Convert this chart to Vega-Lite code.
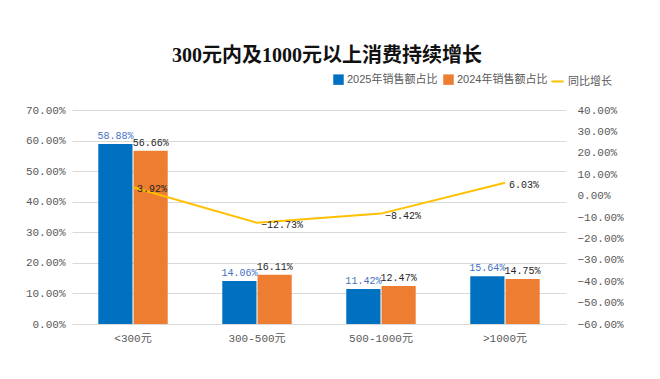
{
  "$schema": "https://vega.github.io/schema/vega-lite/v6.json",
  "width": 494,
  "height": 214,
  "autosize": {"type": "none"},
  "padding": {"left": 72, "top": 110, "right": 94, "bottom": 55},
  "background": "white",
  "title": {
    "text": "300元内及1000元以上消费持续增长",
    "font": "Liberation Serif, Noto Sans CJK SC",
    "fontSize": 20,
    "fontWeight": "bold",
    "color": "#111111",
    "anchor": "middle",
    "frame": "group",
    "dx": 8,
    "offset": 8
  },
  "config": {
    "view": {"stroke": null},
    "axis": {"labelFont": "Liberation Mono, Noto Sans CJK SC", "labelFontSize": 11, "labelColor": "#595959"},
    "legend": {"labelFont": "Liberation Sans, Noto Sans CJK SC", "labelFontSize": 11, "labelColor": "#595959"}
  },
  "datasets": {
    "bars": [
      {"cat": "<300元", "series": "2025年销售额占比", "value": 0.5888},
      {"cat": "<300元", "series": "2024年销售额占比", "value": 0.5666},
      {"cat": "300-500元", "series": "2025年销售额占比", "value": 0.1406},
      {"cat": "300-500元", "series": "2024年销售额占比", "value": 0.1611},
      {"cat": "500-1000元", "series": "2025年销售额占比", "value": 0.1142},
      {"cat": "500-1000元", "series": "2024年销售额占比", "value": 0.1247},
      {"cat": ">1000元", "series": "2025年销售额占比", "value": 0.1564},
      {"cat": ">1000元", "series": "2024年销售额占比", "value": 0.1475}
    ],
    "growth": [
      {"cat": "<300元", "growth": 0.0392},
      {"cat": "300-500元", "growth": -0.1273},
      {"cat": "500-1000元", "growth": -0.0842},
      {"cat": ">1000元", "growth": 0.0603}
    ]
  },
  "encoding": {
    "x": {
      "field": "cat",
      "type": "nominal",
      "sort": ["<300元", "300-500元", "500-1000元", ">1000元"],
      "scale": {"paddingInner": 0.44, "paddingOuter": 0.212},
      "axis": {"title": null, "labelAngle": 0, "ticks": false, "domainColor": "#D9D9D9", "labelPadding": 8}
    }
  },
  "layer": [
    {
      "data": {"name": "bars"},
      "encoding": {
        "xOffset": {"field": "series", "type": "nominal", "sort": ["2025年销售额占比", "2024年销售额占比"], "scale": {"paddingInner": 0.03}},
        "y": {
          "field": "value",
          "type": "quantitative",
          "scale": {"domain": [0, 0.7], "nice": false},
          "axis": {"title": null, "values": [0, 0.1, 0.2, 0.3, 0.4, 0.5, 0.6, 0.7], "format": ".2%", "grid": true, "gridColor": "#D9D9D9", "domain": false, "ticks": false, "labelPadding": 7, "orient": "left"}
        }
      },
      "layer": [
        {
          "mark": {"type": "bar"},
          "encoding": {
            "color": {
              "field": "series",
              "type": "nominal",
              "sort": ["2025年销售额占比", "2024年销售额占比"],
              "scale": {"domain": ["2025年销售额占比", "2024年销售额占比"], "range": ["#0070C0", "#ED7D31"]},
              "legend": {"title": null, "orient": "none", "direction": "horizontal", "legendX": 261, "legendY": -36, "symbolType": "square", "symbolSize": 110, "symbolStrokeWidth": 0, "symbolOpacity": 1, "columnPadding": 5, "labelOffset": 3}
            }
          }
        },
        {
          "mark": {"type": "text", "baseline": "bottom", "dy": -3, "font": "Liberation Mono, Noto Sans CJK SC", "fontSize": 10},
          "encoding": {
            "text": {"field": "value", "type": "quantitative", "format": ".2%"},
            "color": {"condition": {"test": "datum.series == '2025年销售额占比'", "value": "#4472C4"}, "value": "#262626"}
          }
        }
      ]
    },
    {
      "data": {"name": "growth"},
      "encoding": {
        "y": {
          "field": "growth",
          "type": "quantitative",
          "scale": {"domain": [-0.6, 0.4], "nice": false},
          "axis": {"title": null, "orient": "right", "values": [-0.6, -0.5, -0.4, -0.3, -0.2, -0.1, 0, 0.1, 0.2, 0.3, 0.4], "format": ".2%", "grid": false, "domain": false, "ticks": false, "labelPadding": 11}
        }
      },
      "layer": [
        {
          "mark": {"type": "line", "strokeWidth": 2},
          "encoding": {
            "stroke": {
              "datum": "同比增长",
              "scale": {"range": ["#FFC000"]},
              "legend": {"title": null, "orient": "none", "legendX": 478, "legendY": -36, "symbolType": "stroke", "symbolStrokeWidth": 2, "symbolSize": 150, "labelOffset": 3}
            }
          }
        },
        {
          "mark": {"type": "text", "align": "left", "baseline": "middle", "dx": 4, "dy": 2, "font": "Liberation Mono, Noto Sans CJK SC", "fontSize": 10, "color": "#262626"},
          "encoding": {
            "text": {"field": "growth", "type": "quantitative", "format": ".2%"}
          }
        }
      ]
    }
  ],
  "resolve": {"scale": {"y": "independent"}}
}
